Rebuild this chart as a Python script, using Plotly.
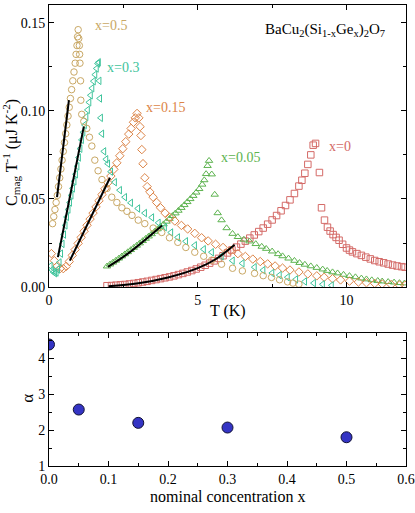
import plotly.graph_objects as go

# x = 0  (squares)
t_x0 = [1.95, 2.1, 2.25, 2.4, 2.55, 2.7, 2.85, 3.0, 3.15, 3.3, 3.45, 3.6, 3.75, 3.9, 4.05,
        4.2, 4.35, 4.5, 4.65, 4.8, 4.95, 5.1, 5.25, 5.4, 5.55, 5.7, 5.85, 6.0, 6.15, 6.3,
        6.45, 6.6, 6.75, 6.9, 7.05, 7.2, 7.35, 7.5, 7.65, 7.8, 7.95, 8.1, 8.25, 8.4, 8.5,
        8.6, 8.7, 8.8, 8.88, 8.96, 9.09, 9.16, 9.26, 9.36, 9.45, 9.55, 9.65, 9.75, 9.87,
        10.0, 10.1, 10.2, 10.35, 10.5, 10.65, 10.8, 10.95, 11.1, 11.25, 11.4, 11.55, 11.7,
        11.85, 11.97]
c_x0 = [0.0008, 0.0009, 0.0011, 0.0013, 0.0015, 0.0018, 0.0021, 0.0025, 0.0029, 0.0033,
        0.0038, 0.0043, 0.0048, 0.0053, 0.0058, 0.0064, 0.0071, 0.0078, 0.0086, 0.0094,
        0.0103, 0.0113, 0.0124, 0.0136, 0.0149, 0.0163, 0.0178, 0.0194, 0.0211, 0.0227,
        0.0244, 0.0261, 0.0278, 0.0296, 0.0315, 0.0335, 0.0357, 0.0381, 0.0406, 0.0433,
        0.0463, 0.0495, 0.0531, 0.0573, 0.0606, 0.0646, 0.0696, 0.0750, 0.0805, 0.0815,
        0.0650, 0.0450, 0.0380, 0.0340, 0.0318, 0.0298, 0.0282, 0.0266, 0.0243, 0.0222,
        0.0210, 0.0200, 0.0190, 0.0180, 0.0170, 0.0160, 0.0151, 0.0144, 0.0138, 0.0131,
        0.0125, 0.0120, 0.0116, 0.0113]

# x = 0.05  (triangles up)
t_x005 = [1.95, 2.05, 2.15, 2.25, 2.35, 2.45, 2.55, 2.65, 2.75, 2.85, 2.95, 3.05, 3.15,
          3.25, 3.35, 3.45, 3.55, 3.65, 3.75, 3.85, 3.95, 4.05, 4.15, 4.25, 4.35, 4.45,
          4.55, 4.65, 4.75, 4.85, 4.95, 5.05, 5.15, 5.22, 5.28, 5.33, 5.38, 5.47, 5.57,
          5.67, 5.8, 5.97, 6.17, 6.35, 6.55, 6.74, 6.95, 7.15, 7.3, 7.5, 7.7, 7.85, 8.05,
          8.25, 8.42, 8.6, 8.8, 9.0, 9.2, 9.35, 9.53, 9.7, 9.9, 10.1, 10.3, 10.5, 10.67,
          10.85, 11.05, 11.2, 11.4, 11.6, 11.78, 11.95]
c_x005 = [0.0118, 0.0129, 0.0140, 0.0151, 0.0163, 0.0175, 0.0187, 0.0199, 0.0211, 0.0224,
          0.0236, 0.0249, 0.0262, 0.0275, 0.0288, 0.0301, 0.0315, 0.0329, 0.0343, 0.0357,
          0.0372, 0.0388, 0.0404, 0.0419, 0.0434, 0.0450, 0.0466, 0.0483, 0.0500, 0.0518,
          0.0537, 0.0557, 0.0582, 0.0607, 0.0642, 0.0688, 0.0717, 0.0640, 0.0525, 0.0420,
          0.0380, 0.0335, 0.0303, 0.0285, 0.0270, 0.0260, 0.0245, 0.0230, 0.0218, 0.0203,
          0.0188, 0.0176, 0.0163, 0.0150, 0.0138, 0.0128, 0.0119, 0.0110, 0.0101, 0.0093,
          0.0085, 0.0079, 0.0071, 0.0064, 0.0057, 0.0050, 0.0045, 0.0040, 0.0036, 0.0033,
          0.0030, 0.0027, 0.0024, 0.0022]

# x = 0.15  (diamonds)
t_x015 = [0.08, 0.18, 0.28, 0.38, 0.48, 0.58, 0.68, 0.78, 0.88, 0.98, 1.08, 1.18, 1.28,
          1.38, 1.48, 1.58, 1.68, 1.78, 1.88, 1.98, 2.08, 2.18, 2.28, 2.38, 2.48, 2.58,
          2.68, 2.76, 2.84, 2.9, 2.96, 3.02, 3.06, 3.09, 3.12, 3.16, 3.22, 3.3, 3.39, 3.5,
          3.62, 3.75, 3.9, 4.06, 4.23, 4.45, 4.66, 4.9, 5.13, 5.35, 5.6, 5.85, 6.1, 6.35,
          6.6, 6.85, 7.1, 7.35, 7.6, 7.85, 8.1, 8.4, 8.7, 9.0, 9.25, 9.53, 9.8, 10.1, 10.4,
          10.67, 10.95, 11.2, 11.5, 11.78, 11.97]
c_x015 = [0.0190, 0.0150, 0.0120, 0.0106, 0.0105, 0.0118, 0.0145, 0.0180, 0.0213, 0.0248,
          0.0282, 0.0317, 0.0351, 0.0386, 0.0420, 0.0455, 0.0490, 0.0525, 0.0558, 0.0592,
          0.0630, 0.0668, 0.0705, 0.0745, 0.0785, 0.0825, 0.0868, 0.0900, 0.0935, 0.0960,
          0.0985, 0.0960, 0.0910, 0.0860, 0.0780, 0.0700, 0.0620, 0.0570, 0.0540, 0.0510,
          0.0480, 0.0450, 0.0420, 0.0395, 0.0375, 0.0350, 0.0330, 0.0305, 0.0280, 0.0262,
          0.0243, 0.0225, 0.0207, 0.0190, 0.0174, 0.0159, 0.0145, 0.0132, 0.0120, 0.0108,
          0.0097, 0.0086, 0.0075, 0.0064, 0.0056, 0.0048, 0.0041, 0.0034, 0.0029, 0.0025,
          0.0021, 0.0018, 0.0015, 0.0012, 0.0010]

# x = 0.3  (triangles left)
t_x03 = [0.05, 0.1, 0.15, 0.2, 0.25, 0.3, 0.35, 0.4, 0.45, 0.5, 0.55, 0.6, 0.65, 0.7, 0.75,
         0.8, 0.85, 0.9, 0.95, 1.0, 1.05, 1.1, 1.15, 1.2, 1.25, 1.3, 1.35, 1.4, 1.45, 1.5,
         1.55, 1.6, 1.64, 1.67, 1.69, 1.71, 1.74, 1.78, 1.85, 1.92, 1.98, 2.08, 2.21, 2.38,
         2.55, 2.75, 2.99, 3.22, 3.46, 3.68, 3.89, 4.1, 4.33, 4.6, 4.9, 5.2, 5.47, 5.8,
         6.17, 6.5, 6.91, 7.2, 7.5, 7.75, 8.02, 8.3, 8.6, 8.9, 9.2, 9.5]
c_x03 = [0.0120, 0.0098, 0.0085, 0.0079, 0.0083, 0.0100, 0.0140, 0.0190, 0.0245, 0.0298,
         0.0350, 0.0398, 0.0440, 0.0480, 0.0520, 0.0560, 0.0600, 0.0640, 0.0685, 0.0735,
         0.0785, 0.0835, 0.0878, 0.0920, 0.0965, 0.1005, 0.1048, 0.1088, 0.1128, 0.1168,
         0.1205, 0.1240, 0.1268, 0.1275, 0.1170, 0.1070, 0.0960, 0.0870, 0.0770, 0.0725,
         0.0700, 0.0655, 0.0595, 0.0550, 0.0510, 0.0478, 0.0446, 0.0420, 0.0395, 0.0365,
         0.0340, 0.0310, 0.0282, 0.0260, 0.0237, 0.0215, 0.0198, 0.0175, 0.0150, 0.0135,
         0.0113, 0.0096, 0.0080, 0.0068, 0.0056, 0.0044, 0.0032, 0.0023, 0.0016, 0.0010]

# x = 0.5  (circles)
t_x05 = [0.12, 0.16, 0.2, 0.24, 0.28, 0.32, 0.36, 0.4, 0.44, 0.48, 0.52, 0.56, 0.6, 0.64,
         0.68, 0.72, 0.76, 0.8, 0.84, 0.88, 0.91, 0.94, 0.96, 0.98, 1.0, 1.02, 1.03, 1.04,
         1.06, 1.07, 1.1, 1.17, 1.27, 1.36, 1.44, 1.54, 1.65, 1.78, 1.95, 2.11, 2.28, 2.45,
         2.62, 2.79, 3.0, 3.22, 3.5, 3.79, 4.05, 4.33, 4.6, 4.9, 5.2, 5.47, 5.8, 6.17, 6.5,
         6.91, 7.2, 7.48, 7.75, 8.02, 8.2, 8.4]
c_x05 = [0.0360, 0.0400, 0.0440, 0.0480, 0.0520, 0.0570, 0.0620, 0.0670, 0.0720, 0.0770,
         0.0820, 0.0870, 0.0920, 0.0970, 0.1020, 0.1070, 0.1120, 0.1170, 0.1220, 0.1270,
         0.1320, 0.1370, 0.1420, 0.1460, 0.1410, 0.1370, 0.1320, 0.1270, 0.1170, 0.1060,
         0.0980, 0.0940, 0.0900, 0.0850, 0.0800, 0.0720, 0.0660, 0.0610, 0.0560, 0.0510,
         0.0480, 0.0450, 0.0430, 0.0407, 0.0380, 0.0360, 0.0335, 0.0310, 0.0280, 0.0254,
         0.0225, 0.0198, 0.0175, 0.0153, 0.0130, 0.0107, 0.0092, 0.0078, 0.0065, 0.0055,
         0.0042, 0.0030, 0.0023, 0.0017]

# black fit lines
fit_t_x0 = [2.0, 3.0, 4.0, 5.0, 5.6, 6.24]
fit_c_x0 = [0.0005, 0.0022, 0.0055, 0.0108, 0.0158, 0.0240]
fit_t_x005 = [1.98, 2.65, 3.8]
fit_c_x005 = [0.0115, 0.0190, 0.0350]
fit_t_x015 = [0.7, 2.05]
fit_c_x015 = [0.0150, 0.0620]
fit_t_x03 = [0.3, 1.17]
fit_c_x03 = [0.0170, 0.0910]
fit_t_x05 = [0.27, 0.67]
fit_c_x05 = [0.0510, 0.1060]

# lower panel
conc = [0.0, 0.05, 0.15, 0.3, 0.5]
alpha = [4.38, 2.57, 2.20, 2.07, 1.80]

series = [
    (t_x0, c_x0, "square-open", "#d46a67", "x=0", 9.36, 0.080),
    (t_x005, c_x005, "triangle-up-open", "#5db34f", "x=0.05", 5.7, 0.0734),
    (t_x015, c_x015, "diamond-open", "#dc8447", "x=0.15", 3.19, 0.1017),
    (t_x03, c_x03, "triangle-left-open", "#3fc49c", "x=0.3", 1.88, 0.1245),
    (t_x05, c_x05, "circle-open", "#c9a865", "x=0.5", 1.48, 0.1485),
]
fits = [(fit_t_x0, fit_c_x0), (fit_t_x005, fit_c_x005), (fit_t_x015, fit_c_x015),
        (fit_t_x03, fit_c_x03), (fit_t_x05, fit_c_x05)]

FONT = "Liberation Serif, Times New Roman, serif"

fig = go.Figure()
for t, c, sym, col, name, lx, ly in series:
    fig.add_trace(go.Scatter(x=t, y=c, mode="markers", name=name,
                             marker=dict(symbol=sym, size=6.5, color=col,
                                         line=dict(width=1, color=col)),
                             xaxis="x", yaxis="y"))
    fig.add_annotation(x=lx, y=ly, xref="x", yref="y", text=name, showarrow=False,
                       xanchor="left", font=dict(family=FONT, size=14, color=col))
for t, c in fits:
    fig.add_trace(go.Scatter(x=t, y=c, mode="lines", line=dict(color="black", width=2),
                             line_shape="spline", xaxis="x", yaxis="y"))

fig.add_trace(go.Scatter(x=conc, y=alpha, mode="markers",
                         marker=dict(size=11, color="#3434c4", line=dict(width=1, color="#111133")),
                         xaxis="x2", yaxis="y2"))

fig.add_annotation(x=0.948, y=0.945, xref="paper", yref="paper", showarrow=False,
                   xanchor="right", yanchor="middle",
                   text="BaCu<sub>2</sub>(Si<sub>1-x</sub>Ge<sub>x</sub>)<sub>2</sub>O<sub>7</sub>",
                   font=dict(family=FONT, size=15, color="black"))

# axis titles as annotations so they sit where the reference puts them
fig.add_annotation(x=-0.108, y=0.68, xref="paper", yref="paper", showarrow=False,
                   textangle=-90, xanchor="center", yanchor="middle",
                   text="C<sub>mag</sub> T<sup>-1</sup> (\u03bcJ K<sup>-2</sup>)",
                   font=dict(family=FONT, size=16, color="black"))
fig.add_annotation(x=-0.062, y=0.1475, xref="paper", yref="paper", showarrow=False,
                   textangle=-90, xanchor="center", yanchor="middle", text="\u03b1",
                   font=dict(family=FONT, size=17, color="black"))
fig.add_annotation(x=0.5, y=0.337, xref="paper", yref="paper", showarrow=False,
                   xanchor="center", yanchor="middle", text="T (K)",
                   font=dict(family=FONT, size=16, color="black"))
fig.add_annotation(x=0.5, y=-0.067, xref="paper", yref="paper", showarrow=False,
                   xanchor="center", yanchor="middle", text="nominal concentration x",
                   font=dict(family=FONT, size=16, color="black"))

axis_common = dict(showline=True, linecolor="black", linewidth=1, mirror="ticks",
                   ticks="inside", ticklen=5, tickcolor="black", showgrid=False,
                   zeroline=False, automargin=False,
                   tickfont=dict(family=FONT, size=14, color="black"))

fig.update_layout(
    width=415, height=513, showlegend=False,
    margin=dict(l=49, r=9, t=5, b=47),
    plot_bgcolor="white", paper_bgcolor="white",
    font=dict(family=FONT, color="black"),
    xaxis=dict(domain=[0, 1], range=[0, 12], dtick=5, anchor="y",
               minor=dict(ticks="inside", ticklen=3, tickcolor="black", dtick=2.5),
               **axis_common),
    yaxis=dict(domain=[0.388, 1], range=[0, 0.16], dtick=0.05, tickformat=".2f", anchor="x",
               minor=dict(ticks="inside", ticklen=3, tickcolor="black", dtick=0.025),
               **axis_common),
    xaxis2=dict(domain=[0, 1], range=[0, 0.6], dtick=0.1, tickformat=".1f", anchor="y2",
                minor=dict(ticks="inside", ticklen=3, tickcolor="black", dtick=0.05),
                **axis_common),
    yaxis2=dict(domain=[0, 0.2885], range=[1, 4.7], dtick=1, anchor="x2",
                minor=dict(ticks="inside", ticklen=3, tickcolor="black", dtick=0.5),
                **axis_common),
)

fig.write_html("out.html", config={"displayModeBar": False},
               post_script="document.body.style.margin='0';document.body.style.overflow='hidden';")
